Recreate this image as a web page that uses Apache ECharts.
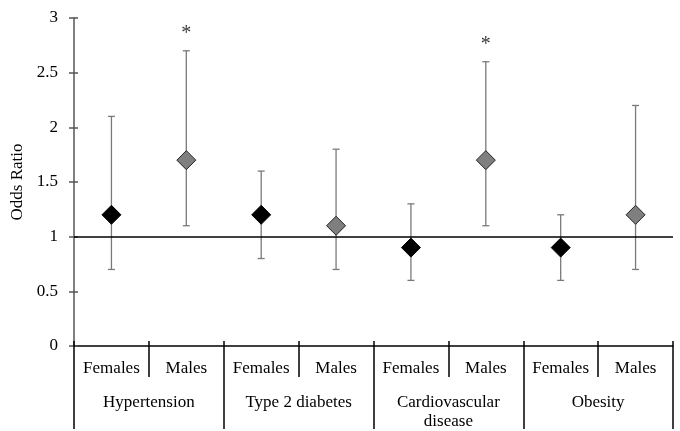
<!DOCTYPE html>
<html>
<head>
<meta charset="utf-8">
<script src="https://cdn.jsdelivr.net/npm/echarts@6/dist/echarts.min.js"></script>
<style>html,body{margin:0;padding:0;background:#fff}#c{width:680px;height:431px}</style>
</head>
<body>
<div id="c"></div>
<script>
const categories = ['Females','Males','Females','Males','Females','Males','Females','Males'];
const groups = ['Hypertension','Type 2 diabetes','Cardiovascular\ndisease','Obesity'];
const oddsRatio = [1.2, 1.7, 1.2, 1.1, 0.9, 1.7, 0.9, 1.2];
const ciLow = [0.7, 1.1, 0.8, 0.7, 0.6, 1.1, 0.6, 0.7];
const ciHigh = [2.1, 2.7, 1.6, 1.8, 1.3, 2.6, 1.2, 2.2];
const significant = [false, true, false, false, false, true, false, false];
const referenceValue = 1;

const FONT = '"Liberation Serif", "Times New Roman", serif';
const chart = echarts.init(document.getElementById('c'), null, {renderer: 'canvas'});

const errData = oddsRatio.map((v, i) => [i, ciLow[i], ciHigh[i]]);
const femaleData = oddsRatio.map((v, i) => i % 2 === 0 ? [i, v] : null).filter(d => d);
const maleData = oddsRatio.map((v, i) => i % 2 === 1 ? [i, v] : null).filter(d => d);
const sigData = ciHigh.map((v, i) => significant[i] ? [i, v] : null).filter(d => d);

chart.setOption({
  animation: false,
  backgroundColor: '#fff',
  grid: {left: 74, right: 7, top: 18, bottom: 83},
  xAxis: [
    {
      type: 'category', data: categories, position: 'bottom', offset: 0,
      axisLine: {show: true, lineStyle: {color: '#000', width: 1.5}},
      axisTick: {show: true, length: 31, lineStyle: {color: '#000', width: 1.5}},
      axisLabel: {color: '#000', fontFamily: FONT, fontSize: 17, margin: 14, interval: 0},
      splitLine: {show: false}
    },
    {
      type: 'category', data: groups, position: 'bottom', offset: 0,
      axisLine: {show: false},
      axisTick: {show: true, length: 83, lineStyle: {color: '#000', width: 1.5}},
      axisLabel: {color: '#000', fontFamily: FONT, fontSize: 17, margin: 47, interval: 0, lineHeight: 19},
      splitLine: {show: false}
    },
    {
      type: 'category', data: categories, position: 'bottom', offset: 0,
      axisLine: {show: false},
      axisTick: {show: true, inside: true, length: 5, lineStyle: {color: '#000', width: 1.5}},
      axisLabel: {show: false},
      splitLine: {show: false}
    }
  ],
  yAxis: [
    {
      type: 'value', min: 0, max: 3, interval: 0.5,
      name: 'Odds Ratio', nameLocation: 'middle', nameGap: 45,
      nameTextStyle: {color: '#000', fontFamily: FONT, fontSize: 17},
      axisLine: {show: true, lineStyle: {color: '#555', width: 1.5}},
      axisTick: {show: true, length: 5, lineStyle: {color: '#555', width: 1.5}},
      axisLabel: {color: '#000', fontFamily: FONT, fontSize: 17, margin: 16},
      splitLine: {show: false}
    },
    {
      type: 'value', min: 0, max: 3, interval: 0.5, position: 'left', offset: 0,
      axisLine: {show: false},
      axisTick: {show: true, inside: true, length: 4, lineStyle: {color: '#555', width: 1.5}},
      axisLabel: {show: false},
      splitLine: {show: false}
    }
  ],
  series: [
    {
      type: 'custom', xAxisIndex: 0, yAxisIndex: 0, data: errData, z: 2,
      renderItem: function (params, api) {
        const x = api.value(0);
        const lo = api.coord([x, api.value(1)]);
        const hi = api.coord([x, api.value(2)]);
        const w = 3.5;
        const st = {stroke: '#7a7a7a', lineWidth: 1.3};
        return {type: 'group', children: [
          {type: 'line', shape: {x1: lo[0], y1: lo[1], x2: hi[0], y2: hi[1]}, style: st},
          {type: 'line', shape: {x1: lo[0] - w, y1: lo[1], x2: lo[0] + w, y2: lo[1]}, style: st},
          {type: 'line', shape: {x1: hi[0] - w, y1: hi[1], x2: hi[0] + w, y2: hi[1]}, style: st}
        ]};
      },
      markLine: {
        silent: true, symbol: ['none', 'none'], label: {show: false},
        lineStyle: {color: '#000', width: 1.5, type: 'solid'},
        data: [{yAxis: referenceValue}]
      }
    },
    {
      type: 'scatter', name: 'Females', xAxisIndex: 0, data: femaleData, z: 3,
      symbol: 'diamond', symbolSize: [19, 19],
      itemStyle: {color: '#000', borderColor: '#000', borderWidth: 1, opacity: 1}
    },
    {
      type: 'scatter', name: 'Males', xAxisIndex: 0, data: maleData, z: 3,
      symbol: 'diamond', symbolSize: [19, 19],
      itemStyle: {color: '#7f7f7f', borderColor: '#222', borderWidth: 1, opacity: 1}
    },
    {
      type: 'scatter', name: 'sig', xAxisIndex: 0, data: sigData, z: 3,
      symbol: 'circle', symbolSize: 2, itemStyle: {color: 'rgba(0,0,0,0)'},
      label: {show: true, position: 'top', distance: 6, formatter: '*', color: '#000', fontFamily: FONT, fontSize: 20}
    }
  ]
});
</script>
</body>
</html>
